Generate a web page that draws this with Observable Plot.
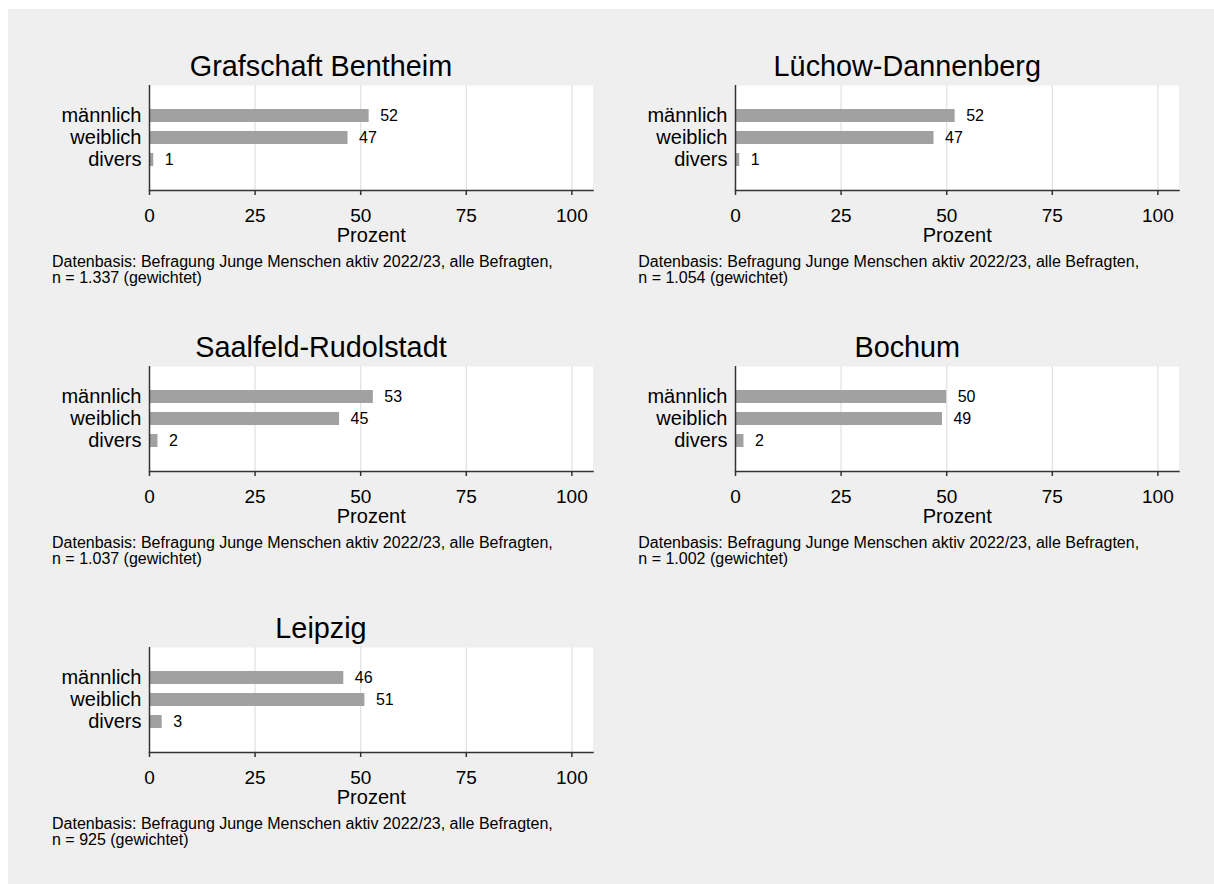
<!DOCTYPE html>
<html>
<head>
<meta charset="utf-8">
<script src="https://cdn.jsdelivr.net/npm/d3@7"></script>
<script src="https://cdn.jsdelivr.net/npm/@observablehq/plot@0.6"></script>
<style>
  html, body { margin: 0; padding: 0; background: #ffffff; }
  body { width: 1214px; height: 884px; position: relative; overflow: hidden;
         font-family: "Liberation Sans", Arial, sans-serif; color: #000; }
  #bg { position: absolute; left: 8px; top: 9px; width: 1206px; height: 875px; background: #efefef; }
  .panel-title { position: absolute; width: 560px; text-align: center; font-size: 28.8px; line-height: 32px; white-space: nowrap; }
  .panel-plot { position: absolute; }
  .panel-caption { position: absolute; font-size: 16px; line-height: 16px; white-space: nowrap; }
</style>
</head>
<body>
<div id="bg"></div>
<div id="root"></div>
<script>
// ---- data ----
const regions = ["Grafschaft Bentheim", "Lüchow-Dannenberg", "Saalfeld-Rudolstadt", "Bochum", "Leipzig"];
const categories = ["männlich", "weiblich", "divers"];
const maennlich = [52, 52, 53, 50, 46];
const weiblich = [47, 47, 45, 49, 51];
const divers = [1, 1, 2, 2, 3];
const nValues = ["1.337", "1.054", "1.037", "1.002", "925"];
const xTicks = [0, 25, 50, 75, 100];
const xLabel = "Prozent";
const captionLine1 = "Datenbasis: Befragung Junge Menschen aktiv 2022/23, alle Befragten,";

const root = document.getElementById("root");
const FONT = '"Liberation Sans", Arial, sans-serif';
const colStep = 586.3, rowStep = 281;

regions.forEach((region, i) => {
  const col = i % 2, row = Math.floor(i / 2);
  const ox = col * colStep, oy = row * rowStep;
  const data = categories.map((c, k) => ({category: c, value: [maennlich, weiblich, divers][k][i]}));

  const title = document.createElement("div");
  title.className = "panel-title";
  title.textContent = region;
  title.style.left = (41 + ox) + "px";
  title.style.top = (50 + oy) + "px";
  root.appendChild(title);

  const chart = Plot.plot({
    width: 560,
    height: 170,
    marginLeft: 109,
    marginRight: 7.5,
    marginTop: 5,
    marginBottom: 60,
    style: {background: "transparent", fontFamily: FONT, fontSize: "20px", color: "#000", overflow: "visible"},
    x: {domain: [0, 105]},
    y: {domain: categories, paddingInner: 0.42, paddingOuter: 1.043},
    marks: [
      Plot.frame({fill: "#ffffff", stroke: null}),
      Plot.gridX({ticks: xTicks.filter(d => d > 0), stroke: "#e3e3e3", strokeOpacity: 1, strokeWidth: 1.3}),
      Plot.barX(data, {x: "value", y: "category", fill: "#a1a1a1"}),
      Plot.text(data, {x: "value", y: "category", text: d => String(d.value), dx: 11, textAnchor: "start", fontSize: 16, fill: "#000"}),
      Plot.ruleX([0], {stroke: "#333", strokeWidth: 1.5}),
      Plot.frame({anchor: "bottom", stroke: "#333", strokeWidth: 1.5}),
      Plot.axisX({ticks: xTicks, tickSize: 5, tickPadding: 13, fontSize: 19, label: null, stroke: "#333", strokeWidth: 1.5, fill: "#000"}),
      Plot.axisY({tickSize: 0, tickPadding: 8, fontSize: 20, label: null, fill: "#000"}),
      Plot.text([xLabel], {frameAnchor: "bottom", dy: 45, lineAnchor: "middle", fontSize: 20, fill: "#000"})
    ]
  });
  const wrap = document.createElement("div");
  wrap.className = "panel-plot";
  wrap.style.left = (40 + ox) + "px";
  wrap.style.top = (80 + oy) + "px";
  wrap.appendChild(chart);
  root.appendChild(wrap);

  const cap = document.createElement("div");
  cap.className = "panel-caption";
  cap.style.left = (52 + ox) + "px";
  cap.style.top = (253.5 + oy) + "px";
  const l1 = document.createElement("div"); l1.textContent = captionLine1;
  const l2 = document.createElement("div"); l2.textContent = "n = " + nValues[i] + " (gewichtet)";
  cap.appendChild(l1); cap.appendChild(l2);
  root.appendChild(cap);
});
</script>
</body>
</html>
